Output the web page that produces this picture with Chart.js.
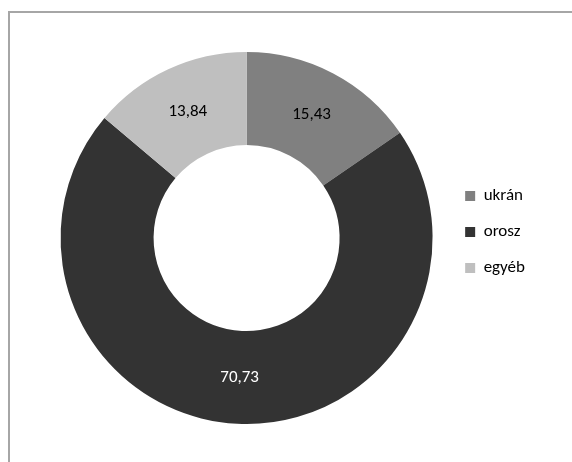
<!DOCTYPE html>
<html>
<head>
<meta charset="utf-8">
<script src="https://cdn.jsdelivr.net/npm/chart.js@4/dist/chart.umd.min.js"></script>
<style>
  html, body { margin: 0; padding: 0; background: #fff; }
  #wrap { position: relative; width: 572px; height: 462px; overflow: hidden; }
  #frame { position: absolute; left: 8px; top: 11px; width: 600px; height: 500px;
           border-left: 2px solid #a6a6a6; border-top: 2px solid #a6a6a6; box-sizing: border-box; }
  canvas { position: absolute; left: 0; top: 0; }
</style>
</head>
<body>
<div id="wrap">
  <div id="frame"></div>
  <canvas id="c" width="572" height="462"></canvas>
</div>
<script>
// Chart data
const labels = ['ukrán', 'orosz', 'egyéb'];
const values = [15.43, 70.73, 13.84];
const colors = ['#808080', '#333333', '#bfbfbf'];
const label_colors = ['#000000', '#ffffff', '#000000'];

const font_family = "Carlito, Calibri, Lato, sans-serif";

// draws the value on each slice, with a decimal comma
const sliceLabels = {
    id: 'sliceLabels',
    afterDatasetsDraw(chart) {
        const ctx = chart.ctx;
        const meta = chart.getDatasetMeta(0);
        ctx.save();
        ctx.font = '17px ' + font_family;
        ctx.textAlign = 'center';
        ctx.textBaseline = 'middle';
        meta.data.forEach((arc, i) => {
            const pos = arc.tooltipPosition();
            ctx.fillStyle = label_colors[i];
            ctx.fillText(values[i].toFixed(2).replace('.', ','), pos.x, pos.y);
        });
        ctx.restore();
    }
};

// nudge the legend a bit above the doughnut's centre line
const legendShift = {
    id: 'legendShift',
    afterLayout(chart) {
        chart.legend.top -= 6;
        chart.legend.bottom -= 6;
    }
};

const canvas = document.getElementById('c');
new Chart(canvas, {
    type: 'doughnut',
    data: {
        labels: labels,
        datasets: [{ data: values, backgroundColor: colors, borderWidth: 0 }]
    },
    options: {
        responsive: false,
        animation: false,
        cutout: '50%',
        layout: { padding: { left: 47, top: 52, bottom: 38, right: 37 } },
        plugins: {
            tooltip: { enabled: false },
            legend: {
                position: 'right',
                labels: {
                    boxWidth: 10,
                    boxHeight: 10,
                    padding: 19,
                    color: '#000',
                    font: { size: 17, family: font_family }
                }
            }
        }
    },
    plugins: [sliceLabels, legendShift]
});
</script>
</body>
</html>
